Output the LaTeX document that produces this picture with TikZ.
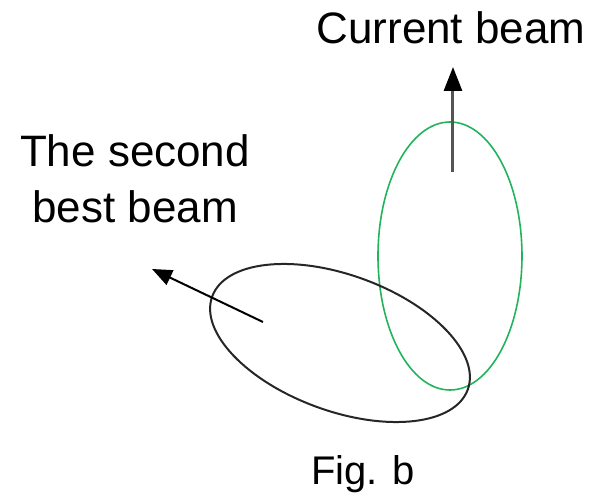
\documentclass[tikz,border=0pt]{standalone}
\usepackage{fontspec}
\setmainfont{Liberation Sans}
\usetikzlibrary{arrows.meta}
\definecolor{beamgreen}{HTML}{22B35C}
\definecolor{beamgray}{HTML}{555555}
\tikzset{
  lbl/.style={inner sep=0pt,font=\fontsize{22}{28}\selectfont,align=center},
  curbeam/.style={draw=beamgreen,line width=0.8pt},
  secbeam/.style={draw=black!85,line width=1pt},
  curar/.style={-{Triangle[length=12pt,width=9pt,color=black]},line width=1.5pt,draw=beamgray},
  secar/.style={-{Triangle[length=10pt,width=8pt]},line width=1pt,draw=black},
}
\begin{document}
\begin{tikzpicture}[x=0.5pt,y=0.5pt]
\useasboundingbox (0,0) rectangle (591,494);
% beams
\draw[curbeam] (450,238) ellipse[x radius=72,y radius=134];
\draw[secbeam,rotate around={-20:(340,151)}] (340,151) ellipse[x radius=136,y radius=68];
% directions
\coordinate (curfrom) at (453,322);
\coordinate (curto) at (453,427);
\coordinate (secfrom) at (263,172);
\coordinate (secto) at (152,225);
\draw[curar] (curfrom) -- (curto);
\draw[secar] (secfrom) -- (secto);
% labels
\node[lbl,anchor=base] (curtxt) at (451,451) {Current beam};
\node[lbl,anchor=north] (sectxt) at (135,360) {The second\\best beam};
\node[lbl,anchor=base,font=\fontsize{20}{24}\selectfont] (fig) at (363,9) {Fig. b};
\end{tikzpicture}
\end{document}
